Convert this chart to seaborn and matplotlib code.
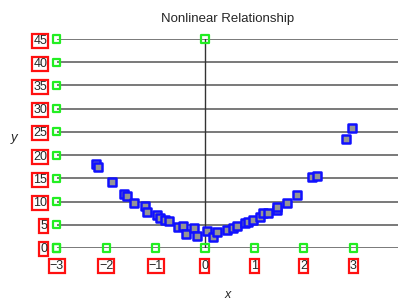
import seaborn as sns
import matplotlib.pyplot as plt
import pandas as pd

# values
x_vals = [-2.21, -2.17, -1.89, -1.64, -1.58, -1.44, -1.22, -1.18, -0.97, -0.91,
          -0.81, -0.73, -0.55, -0.45, -0.39, -0.22, -0.16, 0.04, 0.16, 0.24,
          0.45, 0.57, 0.65, 0.81, 0.87, 0.97, 1.12, 1.18, 1.28, 1.46,
          1.46, 1.66, 1.87, 2.17, 2.27, 2.86, 2.98]
y_vals = [18.1, 17.5, 14.2, 11.6, 11.2, 9.7, 9.1, 7.8, 7.1, 6.5,
          6.0, 5.8, 4.5, 4.7, 3.0, 4.3, 2.6, 3.7, 2.4, 3.4,
          3.9, 4.3, 4.7, 5.4, 5.6, 6.0, 6.7, 7.5, 7.5, 8.2,
          8.8, 9.7, 11.4, 15.3, 15.5, 23.5, 25.9]
x_ticks = [-3, -2, -1, 0, 1, 2, 3]
y_ticks = [0, 5, 10, 15, 20, 25, 30, 35, 40, 45]

df = pd.DataFrame({'x': x_vals, 'y': y_vals})

sns.set_style('white')
plt.rcParams['font.family'] = ['Liberation Sans Narrow', 'Liberation Sans', 'DejaVu Sans']

fig = plt.figure(figsize=(3.98, 3.05), dpi=100)
ax = fig.add_axes([0.143, 0.187, 0.857, 0.685])

# horizontal grid lines and the y axis through x = 0
for yt in y_ticks:
    ax.axhline(yt, color='#555555', lw=1.1, zorder=1)
ax.axvline(0, color='#333333', lw=1.0, zorder=1)

sns.scatterplot(data=df, x='x', y='y', ax=ax, marker='s', s=32,
                color='#959595', edgecolor='#1010ff', linewidth=1.8, zorder=3)

# green markers at tick positions
gx = [-3] * len(y_ticks) + x_ticks + [0]
gy = y_ticks + [0] * len(x_ticks) + [45]
ax.scatter(gx, gy, marker='s', s=26, facecolor='none', edgecolor='#22ee22',
           linewidth=1.6, zorder=4, clip_on=False)

ax.set_xlim(-3, 3.91)
ax.set_ylim(0, 45)
ax.set_xticks(x_ticks)
ax.set_yticks(y_ticks)
ax.tick_params(axis='x', length=5, width=1, color='#666666', pad=4, labelsize=9)
ax.tick_params(axis='y', length=0, pad=7, labelsize=9)
for sp in ax.spines.values():
    sp.set_visible(False)

for lab in ax.get_xticklabels() + ax.get_yticklabels():
    lab.set_bbox(dict(boxstyle='square,pad=0.08', fc='white', ec='#ff1010', lw=1.6))

ax.set_title('Nonlinear Relationship', fontsize=9.5, pad=12)
ax.set_xlabel('x', fontsize=9, style='italic', labelpad=12)
ax.set_ylabel('y', fontsize=9.5, style='italic', rotation=0)
ax.yaxis.set_label_coords(-0.125, 0.5)

fig.savefig('out.png', dpi=100)
